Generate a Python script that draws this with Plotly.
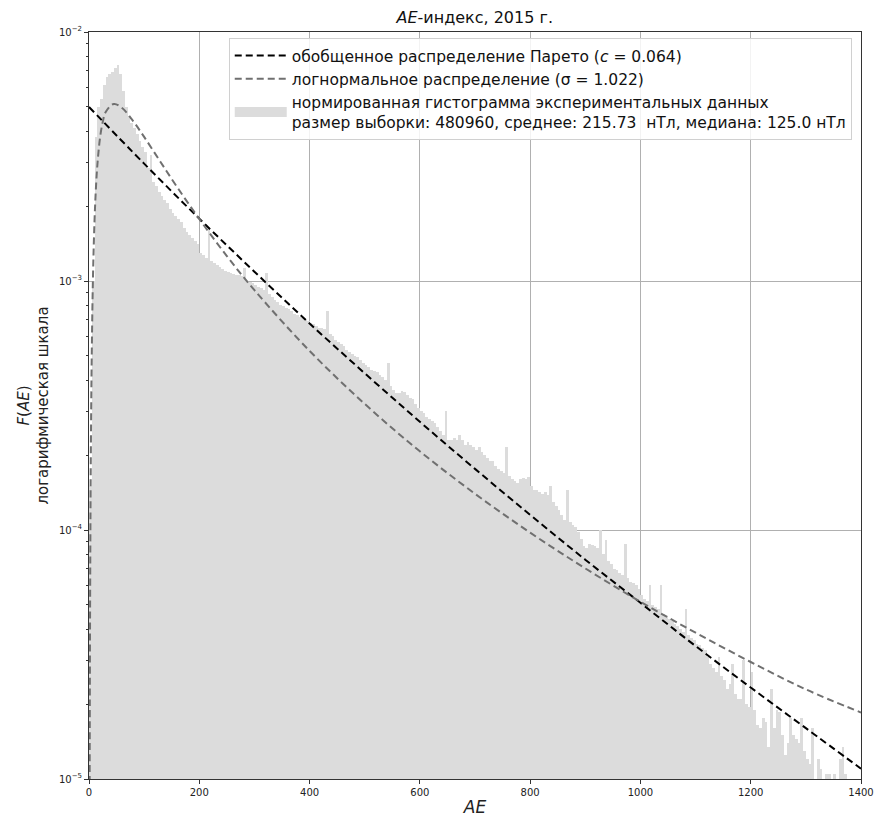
import plotly.graph_objects as go

# ---- data ----
bin_width = 5
hist_start = list(range(0, 1400, 5))
hist_vals = [
    1.5e-4, 1.0e-3, 3.8e-3, 5.0e-3, 5.4e-3, 6.1e-3, 6.6e-3, 6.8e-3, 6.9e-3, 7.2e-3,   # 0-45
    7.4e-3, 6.8e-3, 5.8e-3, 5.0e-3, 4.6e-3, 4.3e-3, 4.1e-3, 3.9e-3, 3.65e-3, 3.45e-3,  # 50-95
    3.3e-3, 2.85e-3, 3.2e-3, 2.5e-3, 2.4e-3, 2.28e-3, 2.2e-3, 2.12e-3, 2.06e-3, 1.95e-3,  # 100-145
    1.87e-3, 1.82e-3, 1.77e-3, 1.72e-3, 1.63e-3, 1.58e-3, 1.53e-3, 1.49e-3, 1.45e-3, 1.41e-3,  # 150-195
    1.30e-3, 1.27e-3, 1.24e-3, 1.65e-3, 1.20e-3, 1.18e-3, 1.16e-3, 1.14e-3, 1.12e-3, 1.10e-3,  # 200-245
    1.09e-3, 1.08e-3, 1.07e-3, 1.06e-3, 1.06e-3, 1.05e-3, 1.13e-3, 1.0e-3, 9.9e-4, 9.8e-4,  # 250-295
    9.6e-4, 9.5e-4, 9.4e-4, 9.2e-4, 1.08e-3, 8.9e-4, 8.6e-4, 8.4e-4, 8.2e-4, 8.0e-4,  # 300-345
    7.9e-4, 7.8e-4, 7.7e-4, 7.6e-4, 7.4e-4, 7.3e-4, 7.2e-4, 7.1e-4, 7.0e-4, 6.9e-4,  # 350-395
    6.8e-4, 6.7e-4, 6.6e-4, 6.5e-4, 6.5e-4, 6.4e-4, 7.6e-4, 6.1e-4, 6.0e-4, 5.8e-4,  # 400-445
    5.7e-4, 5.6e-4, 5.5e-4, 5.3e-4, 5.2e-4, 5.1e-4, 5.0e-4, 4.95e-4, 4.8e-4, 4.7e-4,  # 450-495
    4.6e-4, 4.5e-4, 4.4e-4, 4.35e-4, 4.3e-4, 4.2e-4, 4.1e-4, 4.0e-4, 4.7e-4, 3.8e-4,  # 500-545
    3.65e-4, 3.55e-4, 3.55e-4, 3.6e-4, 3.58e-4, 3.5e-4, 3.4e-4, 3.35e-4, 3.2e-4, 3.1e-4,  # 550-595
    3.0e-4, 2.95e-4, 2.85e-4, 2.8e-4, 2.75e-4, 2.7e-4, 2.6e-4, 2.5e-4, 2.4e-4, 3.0e-4,  # 600-645
    2.3e-4, 2.3e-4, 2.35e-4, 2.3e-4, 2.4e-4, 2.3e-4, 2.2e-4, 2.25e-4, 2.2e-4, 2.15e-4,  # 650-695
    2.1e-4, 2.15e-4, 2.05e-4, 2.0e-4, 1.95e-4, 1.9e-4, 1.9e-4, 1.8e-4, 1.75e-4, 1.72e-4,  # 700-745
    1.7e-4, 2.15e-4, 1.65e-4, 1.6e-4, 1.58e-4, 1.55e-4, 1.6e-4, 1.62e-4, 1.6e-4, 1.63e-4,  # 750-795
    1.5e-4, 1.45e-4, 1.45e-4, 1.42e-4, 1.4e-4, 1.42e-4, 1.38e-4, 1.5e-4, 1.3e-4, 1.25e-4,  # 800-845
    1.2e-4, 1.15e-4, 1.1e-4, 1.45e-4, 1.08e-4, 1.05e-4, 1.03e-4, 9.8e-5, 9.2e-5, 8.6e-5,  # 850-895
    8.5e-5, 8.8e-5, 8.7e-5, 8.6e-5, 8.5e-5, 1.0e-4, 8.0e-5, 9.1e-5, 7.5e-5, 7.3e-5,  # 900-945
    7.0e-5, 6.9e-5, 6.7e-5, 6.6e-5, 8.8e-5, 6.4e-5, 6.2e-5, 6.1e-5, 6.0e-5, 5.8e-5,  # 950-995
    5.5e-5, 5.3e-5, 5.2e-5, 6.0e-5, 5.0e-5, 4.9e-5, 4.8e-5, 6.0e-5, 4.6e-5, 4.5e-5,  # 1000-1045
    4.4e-5, 4.3e-5, 4.2e-5, 4.1e-5, 4.0e-5, 3.9e-5, 4.8e-5, 3.8e-5, 3.7e-5, 3.6e-5,  # 1050-1095
    3.5e-5, 3.45e-5, 3.35e-5, 3.3e-5, 3.1e-5, 2.9e-5, 2.8e-5, 2.7e-5, 3.1e-5, 2.6e-5,  # 1100-1145
    2.5e-5, 2.3e-5, 2.4e-5, 2.9e-5, 2.2e-5, 2.1e-5, 2.1e-5, 3.0e-5, 2.0e-5, 1.95e-5,  # 1150-1195
    2.7e-5, 1.9e-5, 1.65e-5, 1.6e-5, 1.75e-5, 1.7e-5, 1.35e-5, 2.3e-5, 1.6e-5, 1.9e-5,  # 1200-1245
    1.85e-5, 1.5e-5, 1.25e-5, 1.4e-5, 1.75e-5, 1.5e-5, 1.45e-5, 1.4e-5, 1.75e-5, 1.3e-5,  # 1250-1295
    1.2e-5, 1.15e-5, 1.6e-5, 9e-6, 1.2e-5, 1.1e-5, 9e-6, 1.05e-5, 1.05e-5, 8e-6,  # 1300-1345
    1.05e-5, 8e-6, 1.2e-5, 1.35e-5, 1.05e-5, 8e-6, 9e-6, 6e-6, 7e-6, 5e-6,  # 1350-1395
]
hist_centers = [s + bin_width / 2 for s in hist_start]

pareto_x = [0, 100, 200, 300, 400, 500, 600, 700, 800, 900, 1000, 1100, 1200, 1300, 1400]
pareto_y = [5.0e-3, 2.96e-3, 1.78e-3, 1.09e-3, 6.75e-4, 4.26e-4, 2.72e-4, 1.76e-4,
            1.15e-4, 7.6e-5, 5.1e-5, 3.42e-5, 2.33e-5, 1.6e-5, 1.1e-5]

logn_x = [1.2, 1.5, 2, 3, 4, 5, 6.5, 8, 10, 12, 15, 20, 25, 30, 45, 60, 80, 100, 130,
          160, 200, 250, 300, 400, 500, 600, 700, 800, 900, 1000, 1100, 1200, 1300, 1400]
logn_y = [9.6e-6, 2.03e-5, 4.96e-5, 1.54e-4, 3.12e-4, 5.09e-4, 8.58e-4, 1.234e-3, 1.74e-3,
          2.23e-3, 2.89e-3, 3.76e-3, 4.36e-3, 4.76e-3, 5.14e-3, 4.95e-3, 4.39e-3, 3.79e-3,
          3.0e-3, 2.38e-3, 1.774e-3, 1.259e-3, 9.19e-4, 5.24e-4, 3.21e-4, 2.07e-4, 1.398e-4,
          9.76e-5, 7.01e-5, 5.15e-5, 3.87e-5, 2.95e-5, 2.29e-5, 1.85e-5]

x_ticks = [0, 200, 400, 600, 800, 1000, 1200, 1400]
y_ticks = [1e-5, 1e-4, 1e-3, 1e-2]
y_tick_text = ["10<sup>−5</sup>", "10<sup>−4</sup>", "10<sup>−3</sup>", "10<sup>−2</sup>"]
y_minor_ticks = [m * 10.0 ** e for e in (-5, -4, -3) for m in range(2, 10)]

pareto_name = "обобщенное распределение Парето (<i>c</i> = 0.064)"
logn_name = "логнормальное распределение (σ = 1.022)"
hist_name = ("нормированная гистограмма экспериментальных данных<br>"
             "размер выборки: 480960, среднее: 215.73  нТл, медиана: 125.0 нТл")

FONT = "DejaVu Sans"
HIST_COLOR = "#dcdcdc"

fig = go.Figure()
fig.add_trace(go.Scatter(
    x=pareto_x, y=pareto_y, mode="lines", name=pareto_name, legendgroup="pareto",
    line=dict(color="black", width=2, dash="7px,4px", shape="spline"),
))
fig.add_trace(go.Scatter(
    x=logn_x, y=logn_y, mode="lines", name=logn_name, legendgroup="logn",
    line=dict(color="#707070", width=2, dash="7px,4px", shape="spline"),
))
fig.add_trace(go.Bar(
    x=hist_centers, y=hist_vals, width=bin_width, name=hist_name,
    marker=dict(color=HIST_COLOR, line=dict(width=0)),
    showlegend=False, legendgroup="hist",
))
# legend swatch for the histogram (wide patch like matplotlib)
fig.add_trace(go.Scatter(
    x=[None], y=[None], mode="lines", name=hist_name, legendgroup="hist",
    line=dict(color=HIST_COLOR, width=15),
))

fig.update_layout(
    width=877, height=821,
    margin=dict(l=89, r=16, t=32, b=42),
    paper_bgcolor="white", plot_bgcolor="white",
    font=dict(family=FONT, color="#222", size=11),
    bargap=0,
    title=dict(text="<i>AE</i>-индекс, 2015 г.", x=0.5413, xanchor="center",
               y=0.979, yanchor="middle", font=dict(size=16, color="#111")),
    legend=dict(
        x=0.988, y=0.992, xanchor="right", yanchor="top",
        bgcolor="rgba(255,255,255,0.85)", bordercolor="#d0d0d0", borderwidth=1,
        font=dict(size=15.5, color="#111"), traceorder="normal",
        tracegroupgap=6, itemwidth=52,
    ),
    showlegend=True,
)
fig.update_xaxes(
    range=[0, 1400], tickvals=x_ticks, ticks="outside", ticklen=4, tickcolor="#333",
    showgrid=True, gridcolor="#b0b0b0", gridwidth=1,
    showline=True, linecolor="#333", linewidth=1, mirror=True, zeroline=False,
    tickfont=dict(size=10), automargin=False,
    title=dict(text="<i>AE</i>", font=dict(size=17), standoff=4),
)
fig.update_yaxes(
    type="log", range=[-5, -2], tickvals=y_ticks, ticktext=y_tick_text,
    ticks="outside", ticklen=4, tickcolor="#333",
    minor=dict(tickvals=y_minor_ticks, ticks="outside", ticklen=2, tickcolor="#333", showgrid=False),
    showgrid=True, gridcolor="#b0b0b0", gridwidth=1,
    showline=True, linecolor="#333", linewidth=1, mirror=True, zeroline=False,
    tickfont=dict(size=10), automargin=False,
    title=dict(text="<i>F</i>(<i>AE</i>)<br>логарифмическая шкала", font=dict(size=15), standoff=6),
)

fig.write_html("out.html")
